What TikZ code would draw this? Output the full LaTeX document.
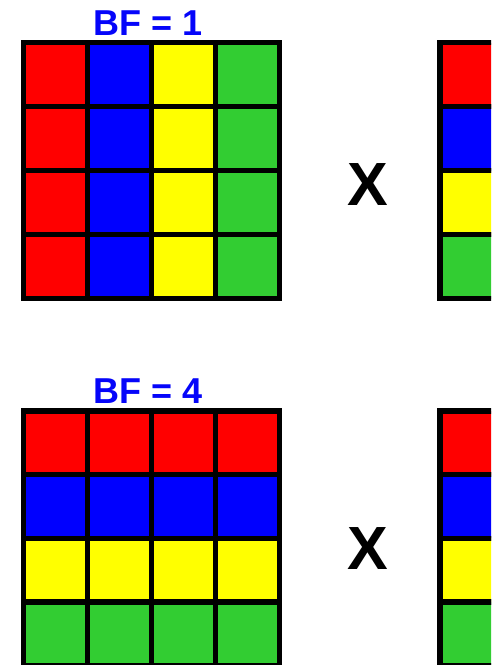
\documentclass[tikz,border=0pt]{standalone}
\usepackage{fontspec}
\setmainfont{Liberation Sans}
\definecolor{cred}{RGB}{255,0,0}
\definecolor{cblue}{RGB}{0,0,255}
\definecolor{cyellow}{RGB}{255,255,0}
\definecolor{cgreen}{RGB}{50,205,50}
\definecolor{ctext}{RGB}{5,5,250}
\begin{document}
\begin{tikzpicture}[x=1pt,y=-1pt,
  cellbox/.style={draw=black,line width=5.5pt,line join=miter},
  bflabel/.style={font=\bfseries\fontsize{36}{36}\selectfont,text=ctext,inner sep=0pt},
  timeslabel/.style={font=\bfseries\fontsize{61}{61}\selectfont,text=black,inner sep=0pt}]
\useasboundingbox (0,0) rectangle (491,665);
\clip (0,0) rectangle (491,665);
\fill[white] (0,0) rectangle (491,665);
% top-left matrix: colours by column
\foreach \c [count=\j from 0] in {cred,cblue,cyellow,cgreen}{
  \foreach \i in {0,...,3}{
    \filldraw[cellbox,fill=\c] (23.7+64*\j,42.7+64*\i) rectangle ++(64,64);
  }
}
% top-right vector
\foreach \c [count=\i from 0] in {cred,cblue,cyellow,cgreen}{
  \filldraw[cellbox,fill=\c] (440,42.7+64*\i) rectangle ++(64,64);
}
% bottom-left matrix: colours by row
\foreach \c [count=\i from 0] in {cred,cblue,cyellow,cgreen}{
  \foreach \j in {0,...,3}{
    \filldraw[cellbox,fill=\c] (23.7+64*\j,411+63.7*\i) rectangle ++(64,63.7);
  }
}
% bottom-right vector
\foreach \c [count=\i from 0] in {cred,cblue,cyellow,cgreen}{
  \filldraw[cellbox,fill=\c] (440,411+63.7*\i) rectangle ++(64,63.7);
}
\node[bflabel] (bf1) at (148,22.8) {BF = 1};
\node[bflabel] (bf4) at (148,391.3) {BF = 4};
\node[timeslabel] (x1) at (368.3,184.5) {X};
\node[timeslabel] (x2) at (368.3,548.3) {X};
\end{tikzpicture}
\end{document}
